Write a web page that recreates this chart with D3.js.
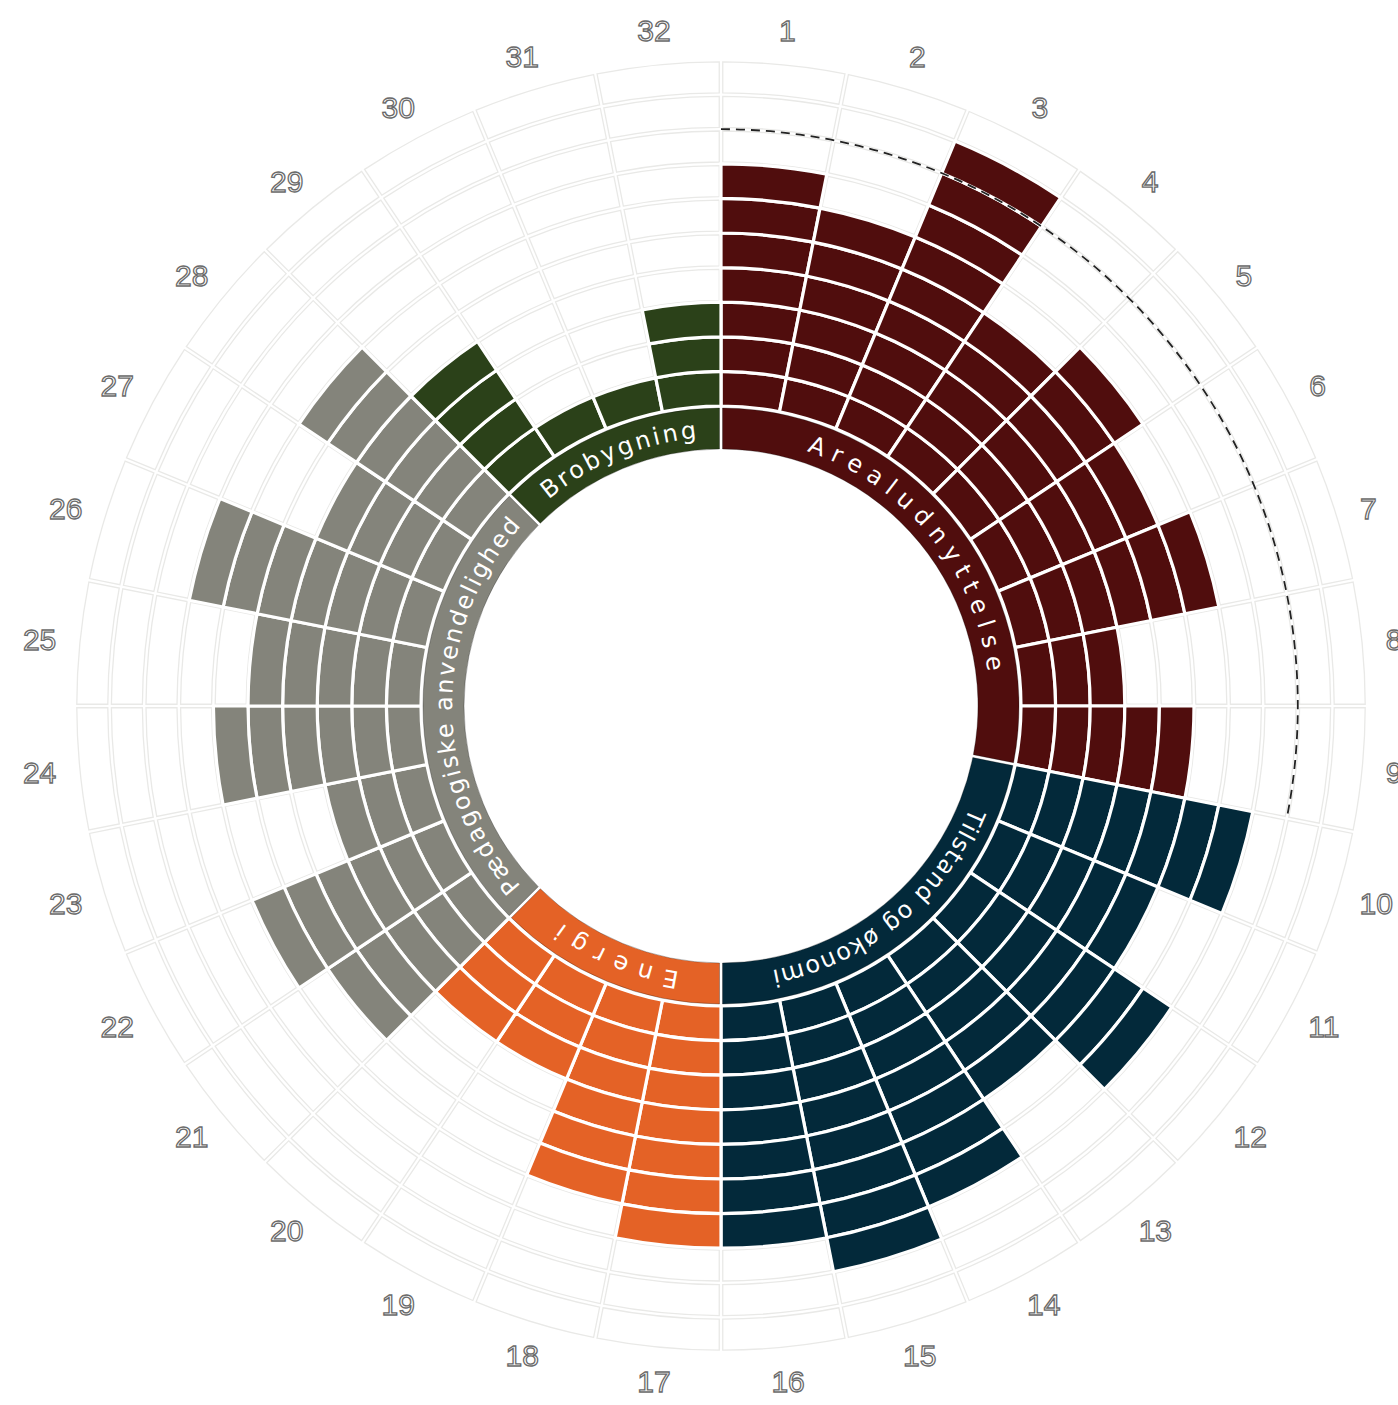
<!DOCTYPE html>
<html>
<head>
<meta charset="utf-8">
<script src="https://cdn.jsdelivr.net/npm/d3@7"></script>
<style>
  html, body { margin: 0; padding: 0; background: #ffffff; }
  svg { display: block; }
</style>
</head>
<body>
<svg id="chart" width="1398" height="1405"></svg>
<script>
// ---------- data ----------
const tickLabels = ["1","2","3","4","5","6","7","8","9","10","11","12","13","14","15","16",
                    "17","18","19","20","21","22","23","24","25","26","27","28","29","30","31","32"];
const blockCounts = [7,6,9,5,6,5,6,3,5, 7,5,7,5,7,8,7, 7,6,3,3, 5,6,3,6,5,7,4,6, 4,1,1,3];
const categories = ["Arealudnyttelse","Tilstand og økonomi","Energi","Pædagogiske anvendelighed","Brobygning"];
const categoryFirst = ["1","10","17","21","29"];
const categoryLast  = ["9","16","20","28","32"];
const maxLevel = 10;
const referenceLevel = 8;           // dashed reference arc
const referenceCategory = "Arealudnyttelse";

// ---------- styles ----------
const categoryColors = ["#500d0d", "#03293a", "#e46226", "#84847b", "#2b4119"];
const labelSpanDeg = [64, 57, 27.3, 84, 34.7];   // visual spread of the band texts

// ---------- layout ----------
const cx = 721, cy = 706;
const svg = d3.select("#chart");
const g = svg.append("g").attr("transform", `translate(${cx},${cy})`);

const angle = d3.scaleBand().domain(tickLabels).range([0, 2 * Math.PI]).padding(0);
const radius = d3.scaleLinear().domain([0, maxLevel]).range([300, 646]);
const bandInner = 257, bandOuter = 298;

const catColor = d3.scaleOrdinal().domain(categories).range(categoryColors);
const sectorCat = {};
categories.forEach((c, i) => {
  const a = tickLabels.indexOf(categoryFirst[i]), b = tickLabels.indexOf(categoryLast[i]);
  for (let j = a; j <= b; j++) sectorCat[tickLabels[j]] = c;
});

// background grid cells
const gridArc = d3.arc().padRadius(100).padAngle(0.035);
const gridCells = [];
tickLabels.forEach(t => {
  for (let k = 0; k < maxLevel; k++) gridCells.push({t, k});
});
g.append("g").selectAll("path").data(gridCells).join("path")
  .attr("d", d => gridArc({
    innerRadius: radius(d.k) + 1.8,
    outerRadius: radius(d.k + 1) - 1.8,
    startAngle: angle(d.t),
    endAngle: angle(d.t) + angle.bandwidth()
  }))
  .attr("fill", "#ffffff")
  .attr("stroke", "#e9e9e7")
  .attr("stroke-width", 1.3);

// blocks
const blockArc = d3.arc();
const blocks = [];
tickLabels.forEach((t, i) => {
  for (let k = 0; k < blockCounts[i]; k++) blocks.push({t, k, cat: sectorCat[t]});
});
g.append("g").selectAll("path").data(blocks).join("path")
  .attr("d", d => blockArc({
    innerRadius: radius(d.k),
    outerRadius: radius(d.k + 1),
    startAngle: angle(d.t),
    endAngle: angle(d.t) + angle.bandwidth()
  }))
  .attr("fill", d => catColor(d.cat))
  .attr("stroke", "#ffffff")
  .attr("stroke-width", 3.2);

// category bands
const bandArc = d3.arc().padRadius(100).padAngle(0.03);
const bands = categories.map((c, i) => ({
  c, i,
  a0: angle(categoryFirst[i]),
  a1: angle(categoryLast[i]) + angle.bandwidth()
}));
g.append("g").selectAll("path").data(bands).join("path")
  .attr("d", d => bandArc({innerRadius: bandInner, outerRadius: bandOuter, startAngle: d.a0, endAngle: d.a1}))
  .attr("fill", d => catColor(d.c))
  .attr("stroke", "rgba(0,0,0,0.35)")
  .attr("stroke-width", 0.8);

// band text paths
const textR = 269;
const defs = svg.append("defs");
bands.forEach(d => {
  const p = d3.path();
  const s = d.a0 - Math.PI / 2, e = d.a1 - Math.PI / 2;
  p.moveTo(textR * Math.cos(s), textR * Math.sin(s));
  p.arc(0, 0, textR, s, e, false);
  defs.append("path").attr("id", "band" + d.i).attr("d", p.toString());
});
g.append("g").selectAll("text").data(bands).join("text")
  .attr("font-family", "'DejaVu Sans', Verdana, sans-serif")
  .attr("font-size", 24)
  .attr("fill", "#ffffff")
  .append("textPath")
  .attr("href", d => "#band" + d.i)
  .attr("startOffset", "50%")
  .attr("text-anchor", "middle")
  .attr("textLength", d => labelSpanDeg[d.i] * Math.PI / 180 * textR)
  .attr("lengthAdjust", "spacing")
  .text(d => d.c);

// dashed reference arc
const ri = categories.indexOf(referenceCategory);
const refP = d3.path();
{
  const s = angle(categoryFirst[ri]) - Math.PI / 2;
  const e = angle(categoryLast[ri]) + angle.bandwidth() - Math.PI / 2;
  const r = radius(referenceLevel);
  refP.moveTo(r * Math.cos(s), r * Math.sin(s));
  refP.arc(0, 0, r, s, e, false);
}
g.append("path")
  .attr("d", refP.toString())
  .attr("fill", "none")
  .attr("stroke", "#222222")
  .attr("stroke-width", 1.8)
  .attr("stroke-dasharray", "9,6");

// outer tick labels (outlined text), pushed outward by their own size
const labelR = 668, halfH = 11;
const labels = g.append("g").selectAll("text").data(tickLabels).join("text")
  .attr("text-anchor", "middle")
  .attr("dominant-baseline", "central")
  .attr("font-family", "'Liberation Sans', Arial, sans-serif")
  .attr("font-size", 30)
  .attr("fill", "#ffffff")
  .attr("stroke", "#6a6a6a")
  .attr("stroke-width", 1.3)
  .text(t => t);
labels.each(function(t) {
  const a = angle(t) + angle.bandwidth() / 2;
  const w = this.getComputedTextLength();
  d3.select(this)
    .attr("x", labelR * Math.sin(a) + (w / 2) * Math.sin(a))
    .attr("y", -labelR * Math.cos(a) - halfH * Math.cos(a));
});
</script>
</body>
</html>
